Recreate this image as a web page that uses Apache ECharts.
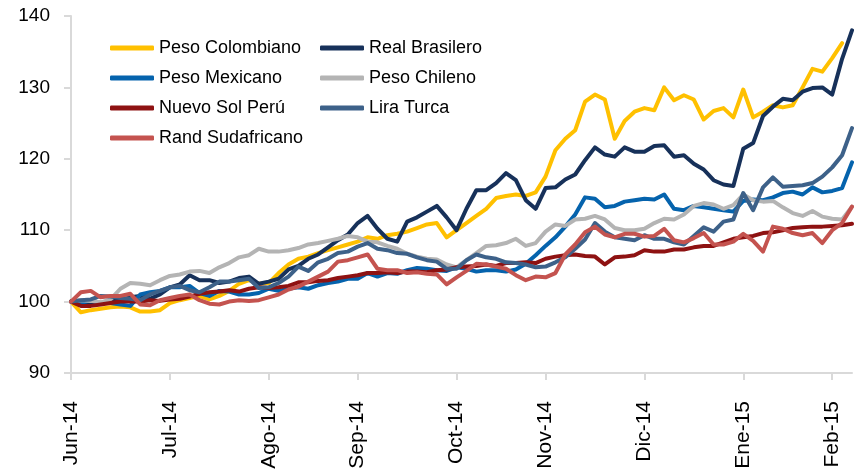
<!DOCTYPE html>
<html style="height:100%">
<head>
  <meta charset="UTF-8">
  <title>Monedas emergentes vs USD</title>
  <script src="https://cdn.jsdelivr.net/npm/echarts@6/dist/echarts.min.js"></script>
  <style>
    html, body { margin: 0; padding: 0; background: #fff; }
    #chart { width: 855px; height: 472px; }
  </style>
</head>
<body>
<div id="chart"></div>
<script>
  // ---------------------------------
  // dates (roughly every other trading day)
  var dates = [
    '2014-06-02','2014-06-04','2014-06-06','2014-06-10','2014-06-12','2014-06-16','2014-06-18','2014-06-20','2014-06-24','2014-06-26',
    '2014-07-01','2014-07-03','2014-07-08','2014-07-10','2014-07-14','2014-07-16','2014-07-18','2014-07-22','2014-07-24','2014-07-28',
    '2014-08-01','2014-08-05','2014-08-07','2014-08-11','2014-08-13','2014-08-15','2014-08-19','2014-08-21','2014-08-27',
    '2014-09-01','2014-09-03','2014-09-05','2014-09-09','2014-09-11','2014-09-15','2014-09-17','2014-09-19','2014-09-23','2014-09-26',
    '2014-10-01','2014-10-03','2014-10-07','2014-10-09','2014-10-14','2014-10-16','2014-10-21','2014-10-23','2014-10-28',
    '2014-11-03','2014-11-05','2014-11-07','2014-11-11','2014-11-13','2014-11-17','2014-11-19','2014-11-21','2014-11-25','2014-11-27',
    '2014-12-01','2014-12-03','2014-12-05','2014-12-09','2014-12-11','2014-12-15','2014-12-17','2014-12-19','2014-12-23','2014-12-29',
    '2015-01-02','2015-01-06','2015-01-08','2015-01-12','2015-01-14','2015-01-16','2015-01-20','2015-01-22','2015-01-27',
    '2015-02-02','2015-02-05','2015-02-09'
  ];

  // tick labels, one per month start
  var monthLabels = ['Jun-14','Jul-14','Ago-14','Sep-14','Oct-14','Nov-14','Dic-14','Ene-15','Feb-15'];

  var names = ['Peso Colombiano','Real Brasilero','Peso Mexicano','Peso Chileno','Nuevo Sol Perú','Lira Turca','Rand Sudafricano'];

  var pesoColombiano = [
    100,98.5,98.8,99.0,99.2,99.3,99.2,98.6,98.6,98.8,
    99.8,100.2,100.5,100.8,100.3,100.8,101.5,102.5,103.0,102.5,
    102.6,104.0,105.2,106.0,106.3,106.8,107.2,107.6,108.0,
    108.4,109.0,108.8,109.3,109.5,109.8,110.3,110.8,111.0,109.0,
    110.0,111.0,112.0,113.0,114.5,114.8,115.0,114.8,115.3,
    117.5,121.2,122.8,124.0,128.0,129.0,128.3,122.8,125.3,126.6,
    127.1,126.8,130.0,128.2,128.9,128.3,125.5,126.7,127.1,125.8,
    129.7,125.8,126.6,127.5,127.2,127.5,130.0,132.6,132.2,
    134.1,136.2,'-'
  ];
  var realBrasilero = [
    100,99.8,99.8,99.7,100.0,100.2,100.6,100.8,100.4,101.0,
    102.0,102.4,103.7,103.0,103.0,102.6,102.8,103.3,103.5,102.5,
    102.8,103.2,104.5,105.0,106.0,106.6,107.6,108.6,109.4,
    111.0,112.0,110.2,108.8,108.4,111.2,111.8,112.6,113.4,111.8,
    110.0,113.0,115.6,115.6,116.6,118.0,117.0,114.2,113.0,
    115.9,116.0,117.1,117.8,119.8,121.6,120.6,120.3,121.6,121.0,
    121.0,121.8,121.9,120.3,120.5,119.3,118.5,117.0,116.4,116.2,
    121.4,122.2,126.0,127.3,128.4,128.2,129.4,129.9,130.0,
    129.0,134.0,138.0
  ];
  var pesoMexicano = [
    100,99.8,100.2,99.8,99.8,99.6,99.4,101.0,101.3,101.5,
    102.0,102.0,102.2,101.2,100.8,101.5,101.4,101.0,101.0,101.2,
    101.8,101.5,101.8,102.0,101.8,102.3,102.6,102.8,103.2,
    103.2,104.0,103.5,104.0,103.9,104.4,104.7,104.6,104.4,104.3,
    104.8,104.6,104.2,104.4,104.4,104.2,104.5,105.3,106.5,
    107.8,109.0,110.5,112.2,114.6,114.4,113.2,113.4,114.0,114.2,
    114.4,114.3,115.0,113.0,112.8,113.4,113.2,113.0,112.8,112.6,
    114.1,114.3,114.2,114.6,115.2,115.4,115.0,116.0,115.3,
    115.5,115.9,119.5
  ];
  var pesoChileno = [
    100,100.2,100.1,99.9,100.3,101.8,102.6,102.5,102.3,103.0,
    103.6,103.8,104.2,104.3,104.0,104.8,105.4,106.2,106.5,107.4,
    107.0,107.0,107.2,107.5,108.0,108.2,108.5,108.8,109.2,
    109.0,108.4,108.3,107.8,107.4,106.7,106.3,106.0,105.9,105.2,
    104.8,105.8,106.8,107.8,107.9,108.2,108.8,107.8,108.2,
    109.8,110.8,110.6,111.5,111.6,112.0,111.5,110.3,110.0,110.0,
    110.2,111.0,111.6,111.5,112.2,113.4,113.8,113.6,113.0,113.5,
    115.0,114.2,114.0,114.1,113.2,112.4,112.0,112.7,111.9,
    111.6,111.5,113.3
  ];
  var nuevoSolPeru = [
    100,99.4,99.4,99.6,99.8,100.0,100.0,100.0,100.2,100.1,
    100.3,100.4,100.7,101.1,101.3,101.4,101.6,101.4,101.8,102.0,
    101.9,102.0,102.2,102.7,102.7,102.9,103.0,103.3,103.5,
    103.7,104.0,104.0,104.1,104.0,104.2,104.2,104.1,104.4,104.5,
    104.8,104.9,105.0,105.2,105.0,105.4,105.4,105.5,105.4,
    106.0,106.3,106.5,106.6,106.4,106.3,105.2,106.2,106.3,106.5,
    107.2,107.0,107.0,107.3,107.3,107.6,107.8,107.8,108.3,108.8,
    109.0,109.2,109.6,109.7,110.0,110.3,110.4,110.5,110.5,
    110.6,110.7,110.9
  ];
  var liraTurca = [
    100,100.2,100.3,100.8,100.7,100.5,100.4,100.2,101.0,101.5,
    102.0,102.2,101.6,101.3,102.0,102.8,102.8,103.0,103.2,101.9,
    102.0,102.6,103.5,104.9,104.3,105.5,106.0,106.8,107.0,
    107.7,108.2,107.4,107.2,106.8,106.7,106.2,105.8,105.6,104.6,
    104.6,105.8,106.6,106.2,106.0,105.5,105.4,105.2,104.8,
    104.9,105.5,106.2,107.4,108.7,111.0,109.8,109.0,108.8,108.6,
    109.3,108.8,108.8,108.3,108.0,109.2,110.4,109.8,111.2,111.5,
    115.2,112.8,116.0,117.4,116.1,116.2,116.3,116.6,117.5,
    118.8,120.5,124.3
  ];
  var randSudafricano = [
    100,101.3,101.5,100.6,100.8,100.8,101.1,99.6,99.5,100.2,
    100.5,100.8,101.0,100.2,99.7,99.6,100.0,100.2,100.1,100.2,
    100.6,101.0,101.7,102.1,102.8,103.5,104.2,105.6,105.8,
    106.2,106.6,104.6,104.4,104.4,104.0,104.1,103.9,103.8,102.4,
    103.4,104.3,105.3,105.2,104.9,104.6,103.7,103.0,103.5,
    103.4,104.0,106.6,108.0,109.7,110.5,109.4,109.0,109.5,109.5,
    109.1,109.2,110.2,108.6,108.3,108.9,109.6,108.0,108.0,108.4,
    109.5,108.5,107.0,110.5,110.2,109.6,109.3,109.6,108.2,
    110.0,111.0,113.3
  ];

  var colors = ['#FFC000','#17315A','#0563AD','#B4B4B4','#8E1212','#3D6189','#C4534F'];
  // ---------------------------------

  var allSeries = [pesoColombiano, realBrasilero, pesoMexicano, pesoChileno, nuevoSolPeru, liraTurca, randSudafricano];

  // month start => label
  var labelByMonth = {};
  var monthStarts = {};
  var k = 0;
  dates.forEach(function (d, i) {
    var m = d.slice(0, 7);
    if (i === 0 || m !== dates[i - 1].slice(0, 7)) {
      labelByMonth[m] = monthLabels[k++];
      monthStarts[i] = true;
    }
  });
  function isMonthStart(index) { return !!monthStarts[index]; }

  var series = allSeries.map(function (vals, i) {
    return {
      name: names[i],
      type: 'line',
      data: vals,
      showSymbol: false,
      symbol: 'none',
      color: colors[i],
      lineStyle: { width: 4, color: colors[i], cap: 'round', join: 'round' }
    };
  });

  var legendText = { fontFamily: 'Liberation Sans', fontSize: 18, color: '#000', lineHeight: 20 };

  var myChart = echarts.init(document.getElementById('chart'));
  var option = {
    animation: false,
    color: colors,
    grid: { left: 71, right: 3, top: 16, bottom: 99 },
    legend: [
      {
        orient: 'vertical', left: 105, top: 33,
        data: [names[0], names[2], names[4], names[6]],
        icon: 'roundRect', itemWidth: 44, itemHeight: 5, itemGap: 10,
        textStyle: legendText
      },
      {
        orient: 'vertical', left: 315, top: 33,
        data: [names[1], names[3], names[5]],
        icon: 'roundRect', itemWidth: 44, itemHeight: 5, itemGap: 10,
        textStyle: legendText
      }
    ],
    xAxis: {
      type: 'category',
      data: dates,
      boundaryGap: false,
      axisLine: { lineStyle: { color: '#D9D9D9', width: 2 } },
      axisTick: { show: true, length: 7, interval: isMonthStart, lineStyle: { color: '#D9D9D9', width: 2 } },
      axisLabel: {
        interval: isMonthStart,
        rotate: 90,
        margin: 28,
        fontFamily: 'Liberation Sans',
        fontSize: 21,
        color: '#000',
        formatter: function (v) { return labelByMonth[v.slice(0, 7)] || ''; }
      },
      splitLine: { show: false }
    },
    yAxis: {
      type: 'value',
      min: 90,
      max: 140,
      interval: 10,
      axisLine: { show: true, lineStyle: { color: '#D9D9D9', width: 2 } },
      axisTick: { show: true, length: 7, lineStyle: { color: '#D9D9D9', width: 2 } },
      axisLabel: { margin: 21, fontFamily: 'Liberation Sans', fontSize: 19, color: '#000' },
      splitLine: { show: false }
    },
    series: series
  };
  myChart.setOption(option);
</script>
</body>
</html>
